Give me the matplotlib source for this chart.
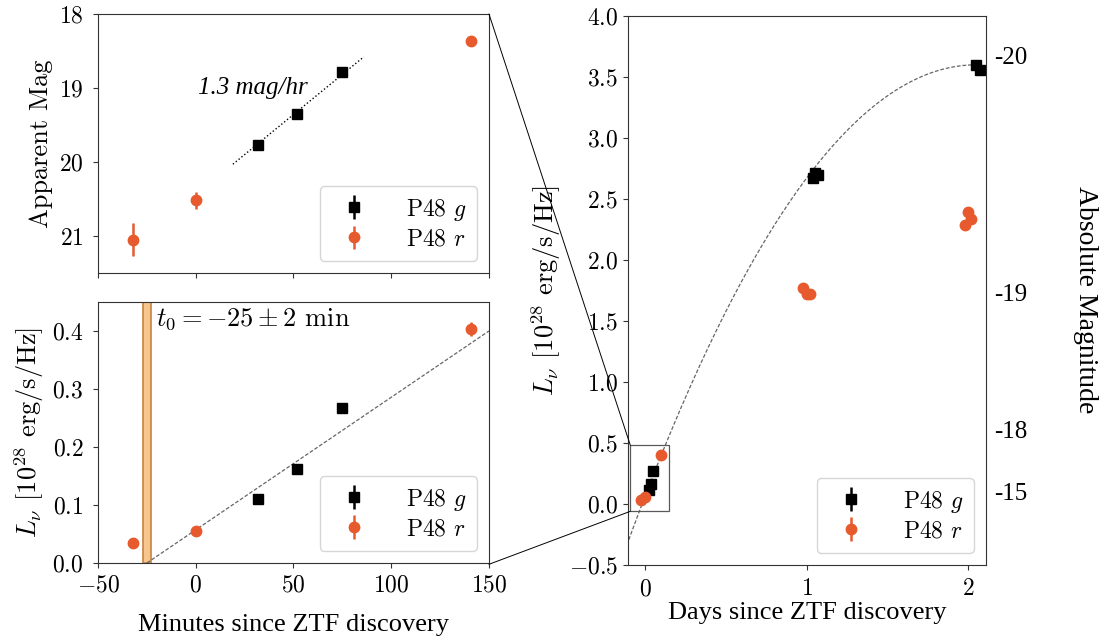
import matplotlib
matplotlib.use("Agg")
import matplotlib.pyplot as plt
from matplotlib.patches import Rectangle, ConnectionPatch
import numpy as np

plt.rcParams["font.family"] = ["cmr10", "DejaVu Serif"]
plt.rcParams["mathtext.fontset"] = "cm"
plt.rcParams["axes.formatter.use_mathtext"] = True
plt.rcParams["axes.unicode_minus"] = True

# early P48 photometry (minutes since discovery)
g_min = [32, 52, 75]
g_mag = [19.77, 19.35, 18.79]
g_mag_err = [0.03, 0.03, 0.03]
g_lum = [0.111, 0.162, 0.268]
g_lum_err = [0.004, 0.005, 0.007]

r_min = [-32, 0, 141]
r_mag = [21.05, 20.52, 18.36]
r_mag_err = [0.22, 0.12, 0.03]
r_lum = [0.035, 0.056, 0.403]
r_lum_err = [0.004, 0.005, 0.012]

# later P48 photometry (days since discovery)
g_day_late = [1.04, 1.05, 1.07, 2.05, 2.07]
g_lum_late = [2.67, 2.71, 2.70, 3.60, 3.56]
g_lum_late_err = [0.02, 0.02, 0.02, 0.02, 0.02]
r_day_late = [0.98, 1.00, 1.02, 1.98, 2.00, 2.02]
r_lum_late = [1.77, 1.72, 1.72, 2.29, 2.39, 2.34]
r_lum_late_err = [0.02, 0.02, 0.02, 0.02, 0.02, 0.02]

# fits
rise_rate = 1.3          # mag/hr
rise_ref = (19, 20.03)   # (min, mag)
rise_span = (19, 86)
t0, t0_err = -25, 2      # min
lin_slope = 0.4 / 175    # 1e28 erg/s/Hz per min
peak_day, peak_lum = 2.05, 3.6

abs_mag_pos = [3.68, 1.73, 0.61, 0.10]
abs_mag_labels = ["-20", "-19", "-18", "-15"]

G_COL = "black"
R_COL = "#e65a2e"
TICK_FS = 17
LEG_FS = 17
LAB_FS = 19

fig = plt.figure(figsize=(11.04, 6.41), dpi=100)
ax_top = fig.add_axes([0.0888, 0.5741, 0.3541, 0.4041])
ax_bot = fig.add_axes([0.0888, 0.1217, 0.3541, 0.4072])
ax_r = fig.add_axes([0.5688, 0.1186, 0.3243, 0.8564])

for ax in (ax_top, ax_bot, ax_r):
    for s in ax.spines.values():
        s.set_color("0.2")
    ax.tick_params(labelsize=TICK_FS, color="0.2")
for ax in (ax_top, ax_bot):
    ax.tick_params(axis="y", pad=7)


def plot_points(ax, gx, gy, gerr, rx, ry, rerr):
    ax.errorbar(gx, gy, yerr=gerr, fmt="s", color=G_COL, ms=6.5,
                elinewidth=1.8, capsize=0, label="P48 $g$", zorder=3)
    ax.errorbar(rx, ry, yerr=rerr, fmt="o", color=R_COL, ms=7.5,
                elinewidth=1.8, capsize=0, label="P48 $r$", zorder=3)
    ax.legend(loc="lower right", fontsize=LEG_FS, handletextpad=1.2,
              borderpad=0.45, labelspacing=0.25)


# top-left: apparent magnitude
plot_points(ax_top, g_min, g_mag, g_mag_err, r_min, r_mag, r_mag_err)
tt = np.array(rise_span, dtype=float)
ax_top.plot(tt, rise_ref[1] - rise_rate * (tt - rise_ref[0]) / 60,
            ls=":", color="black", lw=1.0, zorder=2)
ax_top.text(1, 19.0, "1.3 mag/hr", fontsize=18, style="italic",
            family="Liberation Serif", ha="left", va="center")
ax_top.set_xlim(-50, 150)
ax_top.set_ylim(21.5, 18)
ax_top.set_yticks([18, 19, 20, 21])
ax_top.set_xticks([-50, 0, 50, 100, 150])
ax_top.tick_params(labelbottom=False)
ax_top.set_ylabel("Apparent Mag", fontsize=LAB_FS)

# bottom-left: luminosity in minutes
plot_points(ax_bot, g_min, g_lum, g_lum_err, r_min, r_lum, r_lum_err)
tl = np.array([t0, 150.0])
ax_bot.plot(tl, lin_slope * (tl - t0), ls=(0, (3, 1.5)), color="0.4",
            lw=0.9, zorder=2)
ax_bot.axvspan(t0 - t0_err, t0 + t0_err, facecolor="#f7c590",
               edgecolor="#c8833c", lw=1.2, zorder=1)
ax_bot.text(-20.5, 0.421, r"$t_0 = -25 \pm 2$ min", fontsize=19,
            ha="left", va="center")
ax_bot.set_xlim(-50, 150)
ax_bot.set_ylim(0, 0.45)
ax_bot.set_xticks([-50, 0, 50, 100, 150])
ax_bot.set_yticks([0.0, 0.1, 0.2, 0.3, 0.4])
ax_bot.tick_params(axis="x", pad=5)
ax_bot.set_ylabel(r"$L_\nu$ [10$^{28}$ erg/s/Hz]", fontsize=LAB_FS)
ax_bot.set_xlabel("Minutes since ZTF discovery", fontsize=LAB_FS,
                  family="Liberation Serif", labelpad=12)

# right: luminosity in days
g_day = [m / 1440 for m in g_min] + g_day_late
g_L = g_lum + g_lum_late
g_Le = g_lum_err + g_lum_late_err
r_day = [m / 1440 for m in r_min] + r_day_late
r_L = r_lum + r_lum_late
r_Le = r_lum_err + r_lum_late_err
plot_points(ax_r, g_day, g_L, g_Le, r_day, r_L, r_Le)

t0_day = t0 / 1440
curv = peak_lum / (peak_day - t0_day) ** 2
td = np.linspace(-0.1, peak_day + 0.01, 200)
ax_r.plot(td, peak_lum - curv * (td - peak_day) ** 2, ls=(0, (3, 1.5)),
          color="0.4", lw=0.9, zorder=2)
ax_r.add_patch(Rectangle((-0.09, -0.06), 0.24, 0.54, fill=False,
                         ec="0.35", lw=0.9, zorder=4))
ax_r.set_xlim(-0.105, 2.11)
ax_r.set_ylim(-0.5, 4.0)
ax_r.set_xticks([0, 1, 2])
ax_r.set_yticks(np.arange(-0.5, 4.01, 0.5))
ax_r.tick_params(axis="x", pad=6)
ax_r.set_ylabel(r"$L_\nu$ [10$^{28}$ erg/s/Hz]", fontsize=LAB_FS)
ax_r.set_xlabel("Days since ZTF discovery", fontsize=LAB_FS,
                family="Liberation Serif", labelpad=1)

ax_abs = ax_r.twinx()
ax_abs.set_ylim(ax_r.get_ylim())
ax_abs.set_yticks(abs_mag_pos)
ax_abs.set_yticklabels(abs_mag_labels, family="Liberation Serif",
                       fontsize=18)
ax_abs.tick_params(length=0, pad=6)
for s in ax_abs.spines.values():
    s.set_visible(False)
ax_abs.set_ylabel("Absolute Magnitude", fontsize=20, rotation=270,
                  family="Liberation Serif", va="center")
ax_abs.yaxis.set_label_coords(1.277, 0.483)

# zoom connectors
for xyA, xyB, axA in (((1, 1), (-0.09, 0.48), ax_top),
                      ((1, -0.005), (-0.09, -0.06), ax_bot)):
    con = ConnectionPatch(xyA=xyA, coordsA=axA.transAxes, xyB=xyB,
                          coordsB=ax_r.transData, color="black", lw=0.7)
    fig.add_artist(con)

fig.savefig("out.png", dpi=100)
